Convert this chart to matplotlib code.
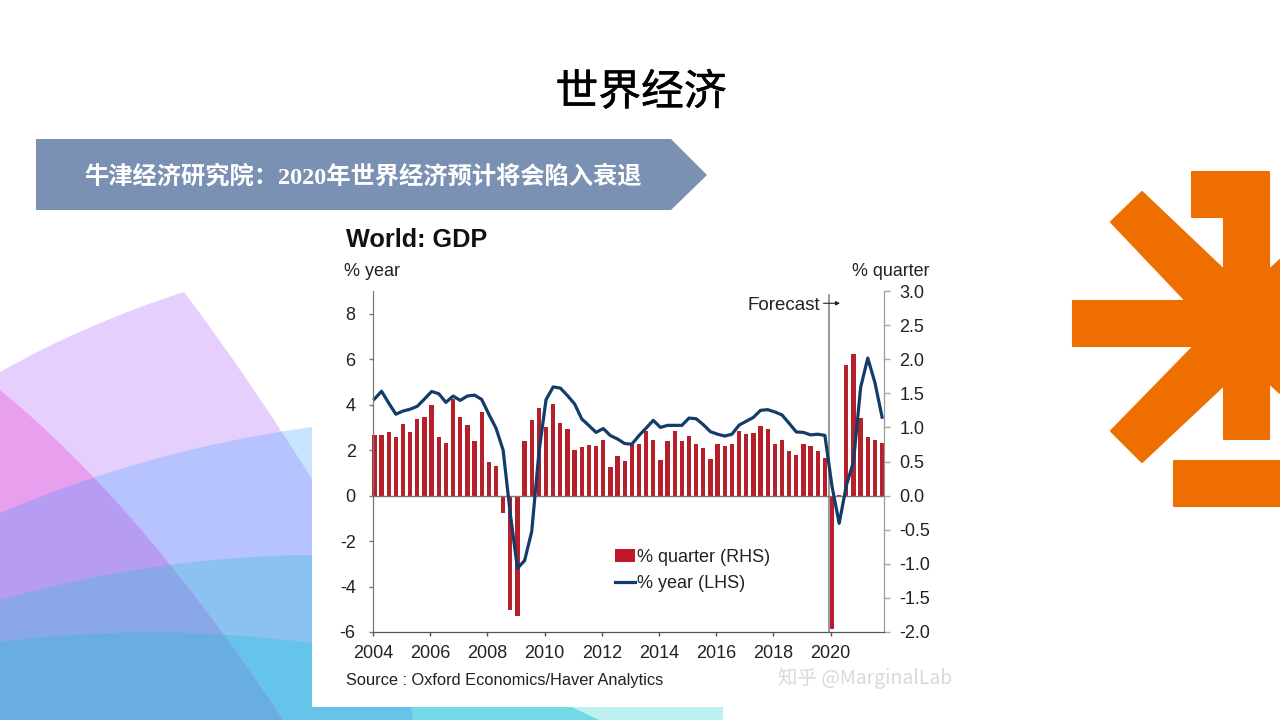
import numpy as np
import matplotlib
matplotlib.use("Agg")
import matplotlib.pyplot as plt
import matplotlib.patheffects as pe
from matplotlib.lines import Line2D
from matplotlib.patches import Patch, PathPatch, Polygon, Rectangle
from matplotlib.path import Path

plt.rcParams['axes.unicode_minus'] = False

W, H = 1280, 720
LATIN = 'Liberation Sans'
CJK = 'Noto Sans CJK SC'
ORANGE = '#ee6f00'

# quarterly data, 2004 Q1 to 2021 Q4
quarter_pct = [
    0.89, 0.89, 0.93, 0.855,
    1.055, 0.93, 1.12, 1.15,
    1.33, 0.855, 0.77, 1.41,
    1.15, 1.04, 0.80, 1.23,
    0.50, 0.44, -0.25, -1.68,
    -1.76, 0.80, 1.11, 1.285,
    1.01, 1.34, 1.06, 0.97,
    0.675, 0.71, 0.74, 0.72,
    0.81, 0.42, 0.58, 0.51,
    0.75, 0.75, 0.95, 0.81,
    0.52, 0.80, 0.95, 0.80,
    0.88, 0.755, 0.70, 0.53,
    0.75, 0.72, 0.75, 0.94,
    0.90, 0.92, 1.02, 0.98,
    0.75, 0.81, 0.65, 0.60,
    0.76, 0.72, 0.66, 0.55,
    -1.95, 0.01, 1.92, 2.07,
    1.14, 0.865, 0.82, 0.77,
]
year_pct = [
    4.25, 4.59, 4.07, 3.58,
    3.72, 3.80, 3.93, 4.25,
    4.58, 4.48, 4.10, 4.38,
    4.19, 4.38, 4.42, 4.23,
    3.58, 2.97, 2.00, -0.80,
    -3.20, -2.86, -1.58, 1.88,
    4.22, 4.78, 4.73, 4.40,
    4.03, 3.37, 3.08, 2.78,
    2.95, 2.64, 2.49, 2.29,
    2.26, 2.64, 2.97, 3.31,
    3.00, 3.09, 3.09, 3.09,
    3.41, 3.38, 3.12, 2.81,
    2.70, 2.62, 2.70, 3.10,
    3.27, 3.44, 3.75, 3.78,
    3.68, 3.55, 3.18, 2.80,
    2.78, 2.67, 2.70, 2.65,
    0.40, -1.22, 0.44, 1.50,
    4.76, 6.05, 4.97, 3.45,
]
x_years = [2004, 2006, 2008, 2010, 2012, 2014, 2016, 2018, 2020]
lhs_ticks = [-6, -4, -2, 0, 2, 4, 6, 8]
rhs_ticks = [-2.0, -1.5, -1.0, -0.5, 0.0, 0.5, 1.0, 1.5, 2.0, 2.5, 3.0]

fig = plt.figure(figsize=(W / 100, H / 100), dpi=100, facecolor='white')

# slide background in pixel coords
bg = fig.add_axes([0, 0, 1, 1], zorder=-1)
bg.set_xlim(0, W)
bg.set_ylim(H, 0)
bg.axis('off')


def curve_region(p0, ctrl, p1):
    # area under a curve, down to the bottom of the slide
    verts = [p0, ctrl, p1, (p1[0], H), (p0[0], H), p0]
    codes = [Path.MOVETO, Path.CURVE3, Path.CURVE3, Path.LINETO, Path.LINETO, Path.CLOSEPOLY]
    return Path(verts, codes)


def fill(path, color, clip=None):
    patch = PathPatch(path, facecolor=color, edgecolor='none')
    bg.add_patch(patch)
    if clip is not None:
        patch.set_clip_path(clip)
    return patch


purple_path = Path(
    [(0, 372), (85, 324), (184, 292), (252, 382), (320, 492), (320, H), (0, H), (0, 372)],
    [Path.MOVETO, Path.CURVE3, Path.CURVE3, Path.CURVE3, Path.CURVE3, Path.LINETO, Path.LINETO, Path.CLOSEPOLY])
band1 = curve_region((0, 513), (150, 449), (312, 427))
band2 = curve_region((0, 600), (156, 556), (312, 555))
band3 = curve_region((0, 642), (150, 622), (312, 643))
dark_path = Path([(0, 390), (141, 505), (283, 720), (0, 720), (0, 390)],
                 [Path.MOVETO, Path.CURVE3, Path.CURVE3, Path.LINETO, Path.CLOSEPOLY])

purple = fill(purple_path, '#e6cffd')
fill(band1, '#c7e3fd')
fill(band1, '#b6c3fe', clip=purple)
fill(band2, '#8cc2f1')
fill(band3, '#66c3e9')
dark = fill(dark_path, '#e8a0ee')
fill(band1, '#b69cf2', clip=dark)
fill(band2, '#8aa8e8', clip=dark)
fill(band3, '#68aee3', clip=dark)

# strip under the picture
bg.add_patch(Rectangle((283, 700), 130, 20, color='#66c3e9', lw=0))
bg.add_patch(Polygon([(410, 700), (557, 700), (600, 720), (413, 720)], color='#73d9e8', lw=0))
bg.add_patch(Polygon([(557, 700), (723, 700), (723, 720), (600, 720)], color='#bdf0f0', lw=0))
bg.add_patch(Rectangle((312, 220), 660, 487, color='white', lw=0))

# banner
bg.add_patch(Polygon([(36, 139), (671, 139), (707, 175), (671, 210), (36, 210)], color='#7a91b3', lw=0))

# orange logo
bg.add_patch(Polygon([
    (1192, 172), (1269, 172), (1269, 270), (1280, 260), (1280, 393), (1269, 383), (1269, 439),
    (1224, 439), (1224, 385), (1142, 462), (1111, 431), (1194, 346), (1073, 346), (1073, 301),
    (1186, 301), (1111, 222), (1142, 192), (1224, 270), (1224, 217), (1192, 217),
], facecolor=ORANGE, edgecolor=ORANGE, lw=1.5, joinstyle='round'))
bg.add_patch(Rectangle((1174, 461), 110, 45, facecolor=ORANGE, edgecolor=ORANGE, lw=1.5, joinstyle='round'))


def px_text(x, y, s, **kw):
    kw.setdefault('va', 'center')
    return fig.text(x / W, 1 - y / H, s, **kw)


title = px_text(641, 93, '世界经济', ha='center', fontsize=30.8, color='black', family=[CJK])
title.set_path_effects([pe.withStroke(linewidth=0.35, foreground='black')])
px_text(84, 177, '牛津经济研究院：2020年世界经济预计将会陷入衰退', ha='left', fontsize=17.5,
        color='white', family=['Liberation Serif', CJK], weight='bold')
px_text(346, 240, 'World: GDP', ha='left', fontsize=18.2, weight='bold', family=[LATIN], color='#111111')
px_text(344, 272, '% year', ha='left', fontsize=13, family=[LATIN], color='#222222')
px_text(852, 272, '% quarter', ha='left', fontsize=12.9, family=[LATIN], color='#222222')
px_text(346, 681, 'Source : Oxford Economics/Haver Analytics', ha='left', fontsize=11.75,
        family=[LATIN], color='#222222')
px_text(778, 678, '知乎 @MarginalLab', ha='left', fontsize=14, family=[CJK], color='#d9d9d9')

# chart axes
left, right, top, bottom = 373, 883.5, 291, 632
ax_q = fig.add_axes([left / W, 1 - bottom / H, (right - left) / W, (bottom - top) / H])
ax_y = ax_q.twinx()
ax_y.set_zorder(ax_q.get_zorder() + 1)
ax_q.set_facecolor('none')
ax_y.set_facecolor('none')

quarters = 2004.05 + np.arange(len(quarter_pct)) * 0.25

ax_q.bar(quarters, quarter_pct, width=0.15, color='#b5202b', clip_on=False, zorder=2)
ax_q.axhline(0, color='#777777', lw=1, zorder=3)
ax_q.axvline(2019.96, ymax=0.988, color='#888888', lw=1.2, zorder=1)
ax_y.plot(quarters, year_pct, color='#123c69', lw=2.3, clip_on=False, solid_joinstyle='round')

ax_q.set_xlim(2004, 2004 + (right - left) / 28.6)
ax_q.set_ylim(-2, 3)
ax_y.set_ylim(-6, 9)
ax_q.set_xticks(x_years)

# left scale goes on the left, right scale on the right
ax_y.yaxis.tick_left()
ax_q.yaxis.tick_right()
ax_y.set_yticks(lhs_ticks)
ax_y.set_yticklabels([str(v) for v in lhs_ticks])
ax_q.set_yticks(rhs_ticks)
ax_q.set_yticklabels([f'{v:.1f}' for v in rhs_ticks], ha='left')

ax_q.tick_params(axis='x', length=3, width=1, color='#555555', labelsize=13, labelcolor='#222222', pad=6.5)
ax_q.tick_params(axis='y', length=4.3, width=1, color='#aaaaaa', labelsize=13, labelcolor='#222222', pad=7)
ax_y.tick_params(axis='y', length=3, width=1, color='#777777', labelsize=13, labelcolor='#222222', pad=9.5)
for label in ax_q.get_xticklabels() + ax_q.get_yticklabels() + ax_y.get_yticklabels():
    label.set_family(LATIN)

for a in (ax_q, ax_y):
    a.spines['top'].set_visible(False)
    a.spines['left'].set_color('#777777')
    a.spines['bottom'].set_color('#555555')
    a.spines['right'].set_color('#999999')

ax_y.annotate('', xy=(2020.33, 8.46), xytext=(2019.75, 8.46),
              arrowprops=dict(arrowstyle='-|>', color='#222222', lw=0.8, mutation_scale=6,
                              shrinkA=0, shrinkB=0))
ax_y.text(2019.65, 8.37, 'Forecast', ha='right', va='center', fontsize=13.5, family=[LATIN], color='#222222')

handles = [Patch(facecolor='#c0182a', edgecolor='none', label='% quarter (RHS)'),
           Line2D([], [], color='#123c69', lw=2.3, label='% year (LHS)')]
ax_y.legend(handles=handles, loc='upper left',
            bbox_to_anchor=((615 - left) / (right - left), (bottom - 549) / (bottom - top)),
            frameon=False, handlelength=1.1, handletextpad=0.1, labelspacing=0.52,
            borderpad=0, borderaxespad=0,
            prop={'family': LATIN, 'size': 13}, labelcolor='#222222')

fig.savefig('out.png', dpi=100)
